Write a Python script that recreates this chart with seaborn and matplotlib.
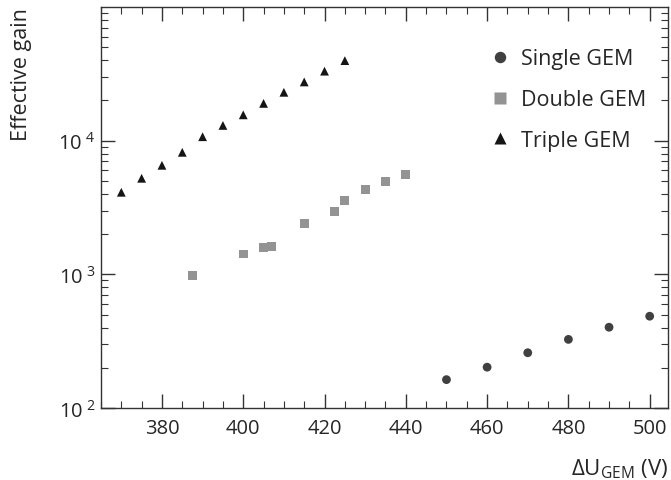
import math
import pandas as pd
import matplotlib
matplotlib.use("Agg")
import matplotlib.pyplot as plt
import matplotlib.ticker as mticker
import seaborn as sns

# data
single_u = [450, 460, 470, 480, 490, 500]
single_gain = [163, 202, 259, 326, 402, 486]

double_u = [387.5, 400, 405, 407, 415, 422.5, 425, 430, 435, 440]
double_gain = [984, 1420, 1590, 1625, 2400, 2950, 3570, 4290, 4920, 5570]

triple_u = [370, 375, 380, 385, 390, 395, 400, 405, 410, 415, 420, 425]
triple_gain = [4110, 5230, 6540, 8180, 10700, 13000, 15600, 19000, 23000, 27500, 33100, 39700]

labels = ["Single GEM", "Double GEM", "Triple GEM"]

df = pd.concat([
    pd.DataFrame({"U": single_u, "gain": single_gain, "type": labels[0]}),
    pd.DataFrame({"U": double_u, "gain": double_gain, "type": labels[1]}),
    pd.DataFrame({"U": triple_u, "gain": triple_gain, "type": labels[2]}),
])

sns.set_style("ticks")
plt.rcParams['font.family'] = ['Open Sans', 'DejaVu Sans']
plt.rcParams['mathtext.fontset'] = 'custom'
plt.rcParams['mathtext.rm'] = 'Open Sans'
plt.rcParams['mathtext.it'] = 'Open Sans'

fig = plt.figure(figsize=(6.71, 4.81), dpi=100)
ax = fig.add_axes([0.1505, 0.1497, 0.845, 0.8337])

sns.scatterplot(
    data=df, x="U", y="gain", hue="type", style="type",
    hue_order=labels, style_order=labels,
    palette={labels[0]: "#404040", labels[1]: "#939393", labels[2]: "#151515"},
    markers={labels[0]: "o", labels[1]: "s", labels[2]: "^"},
    s=40, edgecolor="none", ax=ax,
)

ax.set_yscale("log")
ax.set_xlim(365, 504.5)
ax.set_ylim(100, 1e5)

ax.xaxis.set_major_locator(mticker.MultipleLocator(20))
ax.xaxis.set_minor_locator(mticker.MultipleLocator(5))
ax.yaxis.set_major_locator(mticker.FixedLocator([1e2, 1e3, 1e4]))
ax.yaxis.set_minor_locator(mticker.LogLocator(base=10, subs=range(2, 10)))
ax.yaxis.set_minor_formatter(mticker.NullFormatter())
ax.yaxis.set_major_formatter(mticker.FuncFormatter(
    lambda v, p: r"$\mathregular{10^{\ %d}}$" % round(math.log10(v))))

ax.tick_params(which="both", direction="in", top=True, right=True,
               color="#333333", labelsize=14.5)
ax.tick_params(which="major", length=10, width=1)
ax.tick_params(which="minor", length=5, width=0.8)
ax.tick_params(axis="x", pad=7)
ax.tick_params(axis="y", pad=4)
for sp in ax.spines.values():
    sp.set_color("#333333")
    sp.set_linewidth(1)

ax.set_xlabel(r"$\Delta$U$_{\mathregular{GEM}}$ (V)", fontsize=16)
ax.xaxis.set_label_coords(1.0, -0.12)
ax.xaxis.label.set_ha("right")
ax.set_ylabel("Effective gain", fontsize=15.5)
ax.yaxis.set_label_coords(-0.158, 1.0)
ax.yaxis.label.set_va("top")
ax.yaxis.label.set_ha("right")

sns.move_legend(ax, "upper right", bbox_to_anchor=(0.995, 0.945), frameon=False,
                title=None, fontsize=15.5, handletextpad=0.45, handlelength=1.0,
                labelspacing=0.92, markerscale=1.3)

fig.savefig("out.png", dpi=100)
